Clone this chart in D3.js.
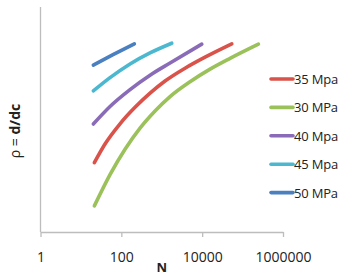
<!DOCTYPE html>
<html><head><meta charset="utf-8">
<script src="https://cdn.jsdelivr.net/npm/d3@7"></script>
<style>body{margin:0;background:#fff}svg{display:block}text{font-family:"Open Sans",sans-serif}</style>
</head><body>
<script>
const seriesNames = ["35 Mpa","30 MPa","40 Mpa","45 Mpa","50 MPa"];
const seriesColors = ["#d9534a","#9bc15a","#8a6bb8","#4bb8d0","#4a7fc0"];
const n35 = [21.5,39.5,92.9,218.3,513.3,1206.7,3773,11800,54040];
const v35 = [0.308,0.391,0.481,0.554,0.617,0.671,0.728,0.777,0.836];
const n30 = [21.5,52.5,123.5,290.3,682.9,1605,5017,15685,49050,246100];
const v30 = [0.116,0.255,0.368,0.462,0.538,0.602,0.668,0.724,0.772,0.835];
const n40 = [20.3,52.5,164.2,513.3,1605,9772];
const v40 = [0.48,0.558,0.633,0.697,0.751,0.835];
const n45 = [20.3,52.5,164.2,513.3,1768];
const v45 = [0.627,0.686,0.747,0.796,0.839];
const n50 = [20.3,62.3,209.8];
const v50 = [0.742,0.788,0.836];
const xTicks = [1,100,10000,1000000];
const xTickLabels = ["1","100","10000","1000000"];

const seriesN = [n35,n30,n40,n45,n50];
const seriesV = [v35,v30,v40,v45,v50];

const W=341,H=276;
const svg=d3.select("body").append("svg").attr("width",W).attr("height",H);
const x=d3.scaleLog().domain([1,1000000]).range([40.5,283]);
const y=d3.scaleLinear().domain([0,1]).range([232,7]);

// axes
svg.append("line").attr("x1",x(1)).attr("x2",x(1)).attr("y1",y(1)).attr("y2",y(0)).attr("stroke","#bdbdbd").attr("stroke-width",1.3);
const xa=d3.axisBottom(x).tickValues(xTicks).tickFormat((d,i)=>xTickLabels[i]).tickSize(5).tickSizeOuter(0);
const gx=svg.append("g").attr("transform",`translate(0,${y(0)})`).call(xa);
gx.select(".domain").attr("stroke","#bdbdbd").attr("stroke-width",1.3);
gx.selectAll(".tick line").attr("stroke","#bdbdbd").attr("stroke-width",1.3);
gx.selectAll(".tick text").attr("fill","#222").attr("font-size","14px").attr("dy","0").attr("y",30)
  .attr("font-family","'Open Sans',sans-serif");

svg.append("text").attr("x",x(1000)).attr("y",272).attr("text-anchor","middle")
  .attr("font-weight","bold").attr("font-size","13px").attr("fill","#222").text("N");

const yl=svg.append("text").attr("transform","translate(20,131) rotate(-90)").attr("text-anchor","middle")
  .attr("font-size","14px").attr("fill","#222");
yl.append("tspan").text("ρ = ");
yl.append("tspan").attr("font-weight","bold").text("d/dc");

const line=d3.line().x(d=>x(d[0])).y(d=>y(d[1])).curve(d3.curveMonotoneX);
seriesN.forEach((ns,i)=>{
  const pts=ns.map((n,j)=>[n,seriesV[i][j]]);
  svg.append("path").datum(pts).attr("d",line).attr("fill","none")
    .attr("stroke",seriesColors[i]).attr("stroke-width",3.6).attr("stroke-linecap","round");
});

// legend
seriesNames.forEach((nm,i)=>{
  const ly=79+i*28.4;
  svg.append("line").attr("x1",271).attr("x2",293).attr("y1",ly).attr("y2",ly)
    .attr("stroke",seriesColors[i]).attr("stroke-width",3.6).attr("stroke-linecap","round");
  svg.append("text").attr("x",294).attr("y",ly+5).attr("font-size","13px").attr("letter-spacing","-0.2px").attr("fill","#222").text(nm);
});
</script>
</body></html>
